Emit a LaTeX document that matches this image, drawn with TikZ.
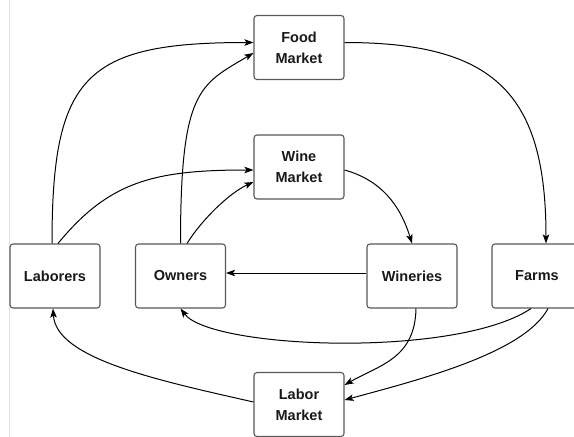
\documentclass[tikz,border=0pt]{standalone}
\usepackage{fontspec}
\setmainfont{Liberation Sans}
\usetikzlibrary{arrows.meta}

\begin{document}
\begin{tikzpicture}[x=1pt,y=-1pt,
	box/.style={draw=black!65, line width=1.1pt, rounded corners=3pt, fill=white,
		minimum width=90pt, minimum height=64pt, align=center, text=black!90,
		font=\fontsize{14.5}{21}\selectfont\bfseries},
	flow/.style={line width=1pt, -{Stealth[length=9pt,width=6.5pt,inset=2pt]}}]
	\clip (0,0) rectangle (574,437);
	\fill[white] (0,0) rectangle (574,437);
	\draw[black!12, line width=1pt] (9,0) -- (9,437);

	% markets on the middle line, agents in the row
	\node[box] (food) at (299,47.5) {Food\\Market};
	\node[box] (wine) at (299,167) {Wine\\Market};
	\node[box] (labor) at (299,404.5) {Labor\\Market};
	\node[box] (laborers) at (55,276) {Laborers};
	\node[box] (owners) at (180.5,276) {Owners};
	\node[box] (wineries) at (412,276) {Wineries};
	\node[box] (farms) at (537,276) {Farms};

	\draw[flow] ([xshift=-3pt]laborers.north) .. controls +(0,-168) and +(-168,0) .. ([yshift=5pt]food.west);
	\draw[flow] (owners.north) .. controls +(0,-154) and +(-54,32) .. ([yshift=-5.5pt]food.west);
	\draw[flow] ([xshift=3pt]laborers.north) .. controls +(51,-62) and +(-100,0) .. ([yshift=-3pt]wine.west);
	\draw[flow] ([xshift=6.5pt]owners.north) .. controls +(16,-25.5) and +(-23,10.5) .. ([yshift=-15pt]wine.west);
	\draw[flow] ([yshift=5pt]food.east) .. controls +(150,0) and +(0,-150) .. ([xshift=9pt]farms.north);
	\draw[flow] ([yshift=-3pt]wine.east) .. controls +(36,10) and +(-12,-39) .. (wineries.north);
	\draw[flow] ([yshift=3pt]wineries.west) -- ([yshift=3pt]owners.east);
	\draw[flow] ([xshift=-6pt]farms.south) .. controls +(-75,50) and +(30.5,40.5) .. (owners.south);
	\draw[flow] ([xshift=4pt]wineries.south) .. controls +(-1,50) and +(35,-20) .. ([yshift=19.5pt]labor.east);
	\draw[flow] ([xshift=11pt]farms.south) .. controls +(-23.5,44) and +(77.6,-21) .. ([yshift=4.5pt]labor.east);
	\draw[flow] ([yshift=2.5pt]labor.west) .. controls +(-97,-22) and +(3,50) .. ([xshift=-2pt]laborers.south);
\end{tikzpicture}
\end{document}
